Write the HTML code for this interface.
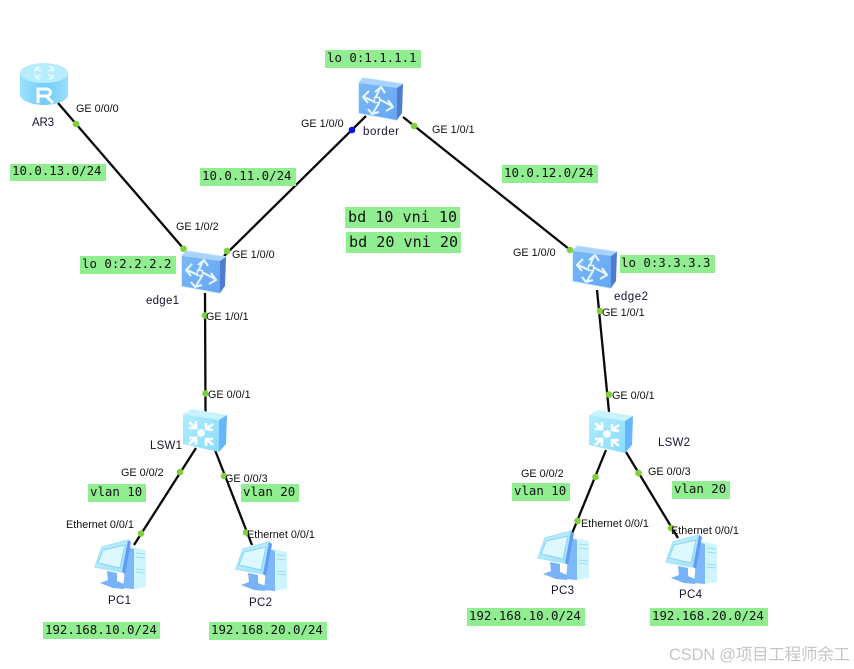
<!DOCTYPE html>
<html lang="zh">
<head>
<meta charset="utf-8">
<title>Network topology</title>
<style>
html,body{margin:0;padding:0;background:#fff}
svg{display:block}
.l{font:10.8px "Liberation Sans",sans-serif;fill:#111}
.n{font:11.5px "Liberation Sans",sans-serif;fill:#1a1030}
.m{font:12.4px "DejaVu Sans Mono","Liberation Mono",monospace;fill:#111}
.b{font:15.1px "DejaVu Sans Mono","Liberation Mono",monospace;fill:#111}
.g{fill:#90ee90}
.w{stroke:#0a0a0a;stroke-width:2.3;fill:none}
.d{fill:#80d03c}
</style>
</head>
<body>
<svg xmlns="http://www.w3.org/2000/svg" width="854" height="669" viewBox="0 0 854 669">
<defs>
<linearGradient id="sf" x1="0" y1="0" x2="1" y2="1"><stop offset="0" stop-color="#7ab8f9"/><stop offset="1" stop-color="#66a6f2"/></linearGradient>
<linearGradient id="lf" x1="0" y1="0" x2="1" y2="1"><stop offset="0" stop-color="#b0edff"/><stop offset="1" stop-color="#8adcfd"/></linearGradient>
<linearGradient id="rb" x1="0" y1="0" x2="1" y2="0"><stop offset="0" stop-color="#9be2fd"/><stop offset=".5" stop-color="#74cbf9"/><stop offset="1" stop-color="#98defc"/></linearGradient>
<linearGradient id="mon" x1="0" y1="0" x2="1" y2="1"><stop offset="0" stop-color="#c8f2ff"/><stop offset="1" stop-color="#9fe0fd"/></linearGradient>

<g id="sw">
<polygon points="0,3 4,-1 44,5 38,9 38,41 0,34" fill="#bfe4ff" stroke="#c8ecff" stroke-width="1.4" stroke-linejoin="round"/>
<polygon points="0,4 4,-1 44,5 38,9" fill="#a9d3fb"/>
<polygon points="0,4 38,9 38,41 0,34" fill="url(#sf)"/>
<polygon points="38,9 44,5 43,34 38,41" fill="#4d7cd0"/>
<g fill="none" stroke="#e6f7ff" stroke-width="2.1" stroke-linejoin="round">
<path d="M16,20 L21,9 M16,13 L22,8 L26,14"/>
<path d="M20,20 L33,27 M29,21 L34,28 L27,32"/>
<path d="M20,24 L14,34 M9,30 L13,35 L20,33"/>
<path d="M16,23 L5,18 M10,12 L4,18 L9,24"/>
</g>
<rect x="15.500" y="18.500" width="5" height="5" fill="#6ba8f0" stroke="#e6f7ff" stroke-width="1.4"/>
</g>

<g id="ls">
<polygon points="-1,5 8,0 43,6 35,11" fill="#c8f3ff"/>
<polygon points="-1,5 35,11 35,43 -1,35" fill="url(#lf)"/>
<polygon points="35,11 43,6 42,35 35,43" fill="#66b6fb"/>
<circle cx="17" cy="24" r="3.8" fill="#fff"/>
<g fill="none" stroke="#fff" stroke-width="2.6">
<path d="M5,13 L12,19 M5,19 L12,19 L12,12"/>
<path d="M29,15 L22,20 M22,14 L22,20 L29,21"/>
<path d="M5,35 L12,29 M5,29 L12,29 L12,36"/>
<path d="M29,36 L22,30 M22,37 L22,30 L29,30"/>
</g>
</g>

<g id="pc">
<polygon points="36,7 53,11 53,48 40,50 30,49" fill="#d0f5ff"/>
<polygon points="34,8 41,10 41,50 30,49" fill="#7db8fa"/>
<g stroke="#9adcf5" stroke-width="1" fill="none"><path d="M43,14 L52,15 M43,18 L52,19 M43,30 L52,31 M43,33 L52,34"/></g>
<polygon points="14,32 24,34 24,42 31,45 31,50 20,49 7,44 15,41" fill="#78b2f8"/>
<polygon points="9,8 35,1 29,33 2,28" fill="url(#mon)" stroke="#a6e4fd" stroke-width="1.4" stroke-linejoin="round"/>
<polygon points="35,1 38,3 32,35 29,33" fill="#5f9cf3"/>
<polygon points="10,11 32,6 27,29 5,24" fill="#def8ff" stroke="#86d2f6" stroke-width="1"/>
</g>

<g id="rt">
<path d="M0,10 L0,32 C0,37 11,42 24,42 C37,42 48,37 48,32 L48,10 Z" fill="url(#rb)"/>
<ellipse cx="24" cy="10" rx="24" ry="10" fill="#b8edfe"/>
<g fill="none" stroke="#e8faff" stroke-width="1.5">
<path d="M16,6 L21,8 M15,9 L16,5 L20,4"/>
<path d="M33,6 L28,8 M29,3 L33,5 L33,9"/>
<path d="M16,14 L21,12 M15,11 L16,15 L20,16"/>
<path d="M33,14 L28,12 M33,11 L33,15 L29,16"/>
</g>
<path d="M18,40 L18,26 L26,26 C32,26 32,33 26,33 L18,33 M26,33 L33,40" fill="none" stroke="#fff" stroke-width="3"/>
</g>
</defs>

<!-- links -->
<path class="w" d="M58,103 L183,248"/>
<path class="w" d="M366,116 L224,256"/>
<path class="w" d="M403,117 L569,249"/>
<path class="w" d="M205,293 L205.500,412"/>
<path class="w" d="M597,290 L609,412"/>
<path class="w" d="M196,448 L134,545"/>
<path class="w" d="M215,450 L252,545"/>
<path class="w" d="M606,450 L571,536"/>
<path class="w" d="M626,452 L678,538"/>

<!-- devices -->
<use href="#rt" x="20" y="63"/>
<use href="#sw" x="359" y="79"/>
<use href="#sw" x="182" y="252"/>
<use href="#sw" x="573" y="247"/>
<use href="#ls" x="184" y="409"/>
<use href="#ls" x="590" y="410"/>
<use href="#pc" x="93" y="539"/>
<use href="#pc" x="234" y="541"/>
<use href="#pc" x="536" y="530"/>
<use href="#pc" x="664" y="534"/>

<!-- port dots -->
<circle class="d" cx="76" cy="124" r="3.300"/>
<circle cx="352" cy="130" r="3.300" fill="#0a14e6"/>
<circle class="d" cx="227" cy="251" r="3.300"/>
<circle class="d" cx="183.500" cy="248.700" r="3.300"/>
<circle class="d" cx="414" cy="126" r="3.300"/>
<circle class="d" cx="570" cy="250" r="3.300"/>
<circle class="d" cx="205" cy="315.500" r="3.300"/>
<circle class="d" cx="205.500" cy="393.500" r="3.300"/>
<circle class="d" cx="600" cy="311" r="3.300"/>
<circle class="d" cx="609" cy="394.500" r="3.300"/>
<circle class="d" cx="180" cy="472" r="3.300"/>
<circle class="d" cx="141" cy="533.500" r="3.300"/>
<circle class="d" cx="224" cy="476" r="3.300"/>
<circle class="d" cx="246" cy="532.500" r="3.300"/>
<circle class="d" cx="595.500" cy="477" r="3.300"/>
<circle class="d" cx="577.500" cy="521" r="3.300"/>
<circle class="d" cx="638.500" cy="473" r="3.300"/>
<circle class="d" cx="671" cy="528" r="3.300"/>

<!-- green boxes -->
<rect class="g" x="325" y="50" width="96" height="18"/>
<rect class="g" x="10" y="164" width="96" height="17"/>
<rect class="g" x="200" y="168" width="96" height="18"/>
<rect class="g" x="502" y="165" width="96" height="18"/>
<rect class="g" x="345" y="207" width="115" height="21"/>
<rect class="g" x="346" y="232" width="115" height="21"/>
<rect class="g" x="80" y="256" width="96" height="18"/>
<rect class="g" x="620" y="255" width="95" height="18"/>
<rect class="g" x="88" y="484" width="58" height="18"/>
<rect class="g" x="241" y="484" width="58" height="18"/>
<rect class="g" x="512" y="483" width="58" height="18"/>
<rect class="g" x="672" y="481" width="58" height="18"/>
<rect class="g" x="43" y="622" width="117" height="17"/>
<rect class="g" x="209" y="622" width="118" height="18"/>
<rect class="g" x="467" y="608" width="118" height="18"/>
<rect class="g" x="650" y="608" width="118" height="18"/>

<!-- mono labels -->
<text class="m" x="327" y="62">lo 0:1.1.1.1</text>
<text class="m" x="12" y="175">10.0.13.0/24</text>
<text class="m" x="202" y="180">10.0.11.0/24</text>
<text class="m" x="504" y="177">10.0.12.0/24</text>
<text class="m" x="82" y="268">lo 0:2.2.2.2</text>
<text class="m" x="621" y="267">lo 0:3.3.3.3</text>
<text class="m" x="90" y="496">vlan 10</text>
<text class="m" x="243" y="496">vlan 20</text>
<text class="m" x="514" y="495">vlan 10</text>
<text class="m" x="674" y="493">vlan 20</text>
<text class="m" x="45" y="634">192.168.10.0/24</text>
<text class="m" x="211" y="634">192.168.20.0/24</text>
<text class="m" x="469" y="620">192.168.10.0/24</text>
<text class="m" x="652" y="620">192.168.20.0/24</text>
<text class="b" x="348" y="222">bd 10 vni 10</text>
<text class="b" x="349" y="247">bd 20 vni 20</text>

<!-- port labels -->
<text class="l" x="76" y="112">GE 0/0/0</text>
<text class="l" x="301" y="127">GE 1/0/0</text>
<text class="l" x="432" y="133">GE 1/0/1</text>
<text class="l" x="176" y="230">GE 1/0/2</text>
<text class="l" x="232" y="258">GE 1/0/0</text>
<text class="l" x="206" y="320">GE 1/0/1</text>
<text class="l" x="513" y="256">GE 1/0/0</text>
<text class="l" x="602" y="316">GE 1/0/1</text>
<text class="l" x="612" y="399">GE 0/0/1</text>
<text class="l" x="208" y="398">GE 0/0/1</text>
<text class="l" x="121" y="476">GE 0/0/2</text>
<text class="l" x="225" y="482">GE 0/0/3</text>
<text class="l" x="521" y="477">GE 0/0/2</text>
<text class="l" x="648" y="475">GE 0/0/3</text>
<text class="l" x="66" y="528">Ethernet 0/0/1</text>
<text class="l" x="247" y="538">Ethernet 0/0/1</text>
<text class="l" x="581" y="527">Ethernet 0/0/1</text>
<text class="l" x="671" y="534">Ethernet 0/0/1</text>

<!-- device names -->
<text class="n" x="32" y="126" textLength="22">AR3</text>
<text class="n" x="363" y="135" textLength="36">border</text>
<text class="n" x="146" y="304" textLength="33">edge1</text>
<text class="n" x="614" y="300" textLength="34">edge2</text>
<text class="n" x="150" y="449" textLength="32">LSW1</text>
<text class="n" x="658" y="446" textLength="32">LSW2</text>
<text class="n" x="108" y="604" textLength="23">PC1</text>
<text class="n" x="249" y="606" textLength="23">PC2</text>
<text class="n" x="551" y="594" textLength="23">PC3</text>
<text class="n" x="679" y="598" textLength="23">PC4</text>

<!-- watermark -->
<text x="669" y="660" textLength="181" style="font:16.5px 'Liberation Sans','Noto Sans CJK SC',sans-serif;fill:#c6c6c6">CSDN @项目工程师余工</text>
</svg>
</body>
</html>
